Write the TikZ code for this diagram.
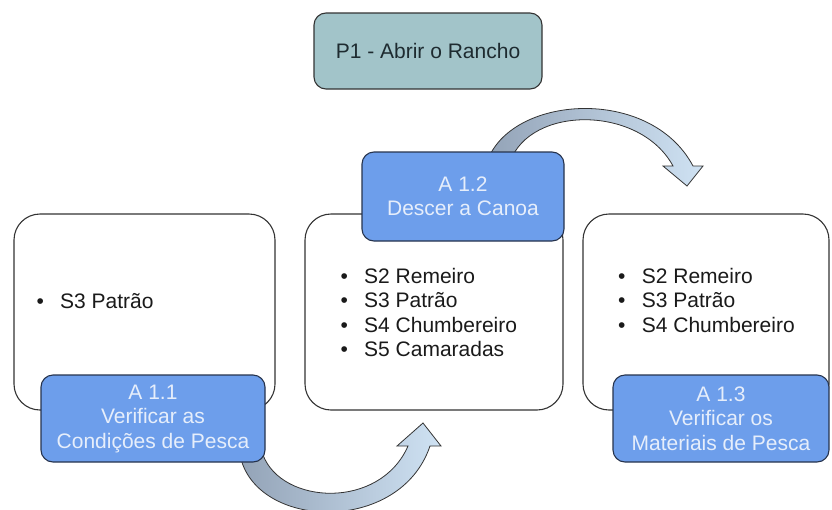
\documentclass[tikz,border=0pt]{standalone}
\usepackage{fontspec}
\setmainfont{Liberation Sans}
\usepackage{tikz}
\usetikzlibrary{positioning, arrows}
\usetikzlibrary{arrows.meta}

\definecolor{titlefill}{HTML}{A2C4C9}
\definecolor{titletext}{HTML}{1E2B30}
\definecolor{actfill}{HTML}{6D9EEB}
\definecolor{acttext}{HTML}{E6EEFB}
\definecolor{actedge}{HTML}{26334D}
\definecolor{edge}{HTML}{333333}
\definecolor{crewtext}{HTML}{1A1A1A}
\definecolor{arrowdark}{HTML}{93A3B7}
\definecolor{arrowlight}{HTML}{CFE2F3}

\newcommand{\itm}{\textbullet\hspace{16.3pt}}

\begin{document}
\begin{tikzpicture}[x=1pt, y=-1pt, >=stealth,
    txt/.style={font=\fontsize{21}{24.5}\selectfont},
    stage/.style={draw=edge, line width=1.1pt, rounded corners=26pt, fill=white, minimum height=196pt, inner sep=0pt},
    act/.style={txt, draw=actedge, line width=1.1pt, rounded corners=12pt, fill=actfill, text=acttext, align=center, minimum height=87pt, inner sep=0pt},
    crew/.style={txt, text=crewtext, anchor=base west, inner sep=0pt},
    bigarrow/.style={draw=edge, line width=0.8pt, left color=arrowdark, right color=arrowlight}]

    \useasboundingbox (0,0) rectangle (832,509);

    % Define nodes
    \node[txt, draw=edge, line width=1.1pt, rounded corners=12pt, fill=titlefill, text=titletext, minimum width=228pt, minimum height=76pt] (p1) at (428,51) {P1 - Abrir o Rancho};

    \foreach \name/\x/\w in {s11/144.5/261pt, s12/434/258pt, s13/706/246pt} {
        \node[stage, minimum width=\w] (\name) at (\x,312) {};
    }

    % Crew lists
    \node[crew] (c1) at (36.3,308) {\itm S3 Patrão};
    \foreach \t [count=\i] in {S2 Remeiro, S3 Patrão, S4 Chumbereiro, S5 Camaradas} {
        \node[crew] (m\i) at (340.3,{283+24.5*(\i-1)}) {\itm \t};
    }
    \foreach \t [count=\i] in {S2 Remeiro, S3 Patrão, S4 Chumbereiro} {
        \node[crew] (r\i) at (618,{283+24.5*(\i-1)}) {\itm \t};
    }

    % Draw curved arrows
    \draw[bigarrow] (263,455) .. controls (282,505) and (380,510) .. (408,446) -- (397,446) -- (423,423) -- (441,446) -- (430,446) .. controls (400,535) and (255,530) .. (240,455) -- cycle;
    \draw[bigarrow] (487,162) .. controls (510,95) and (650,85) .. (693,166) -- (703,166) -- (687,186) -- (663,166) -- (673,166) .. controls (640,105) and (530,105) .. (510,162) -- cycle;

    % Activities
    \node[act, minimum width=224pt] (a11) at (153,418.5) {A 1.1\\Verificar as\\Condições de Pesca};
    \node[act, minimum width=202pt, minimum height=89pt] (a12) at (463,196.5) {A 1.2\\Descer a Canoa};
    \node[act, minimum width=216pt] (a13) at (721,418.5) {A 1.3\\Verificar os\\Materiais de Pesca};

\end{tikzpicture}
\end{document}
